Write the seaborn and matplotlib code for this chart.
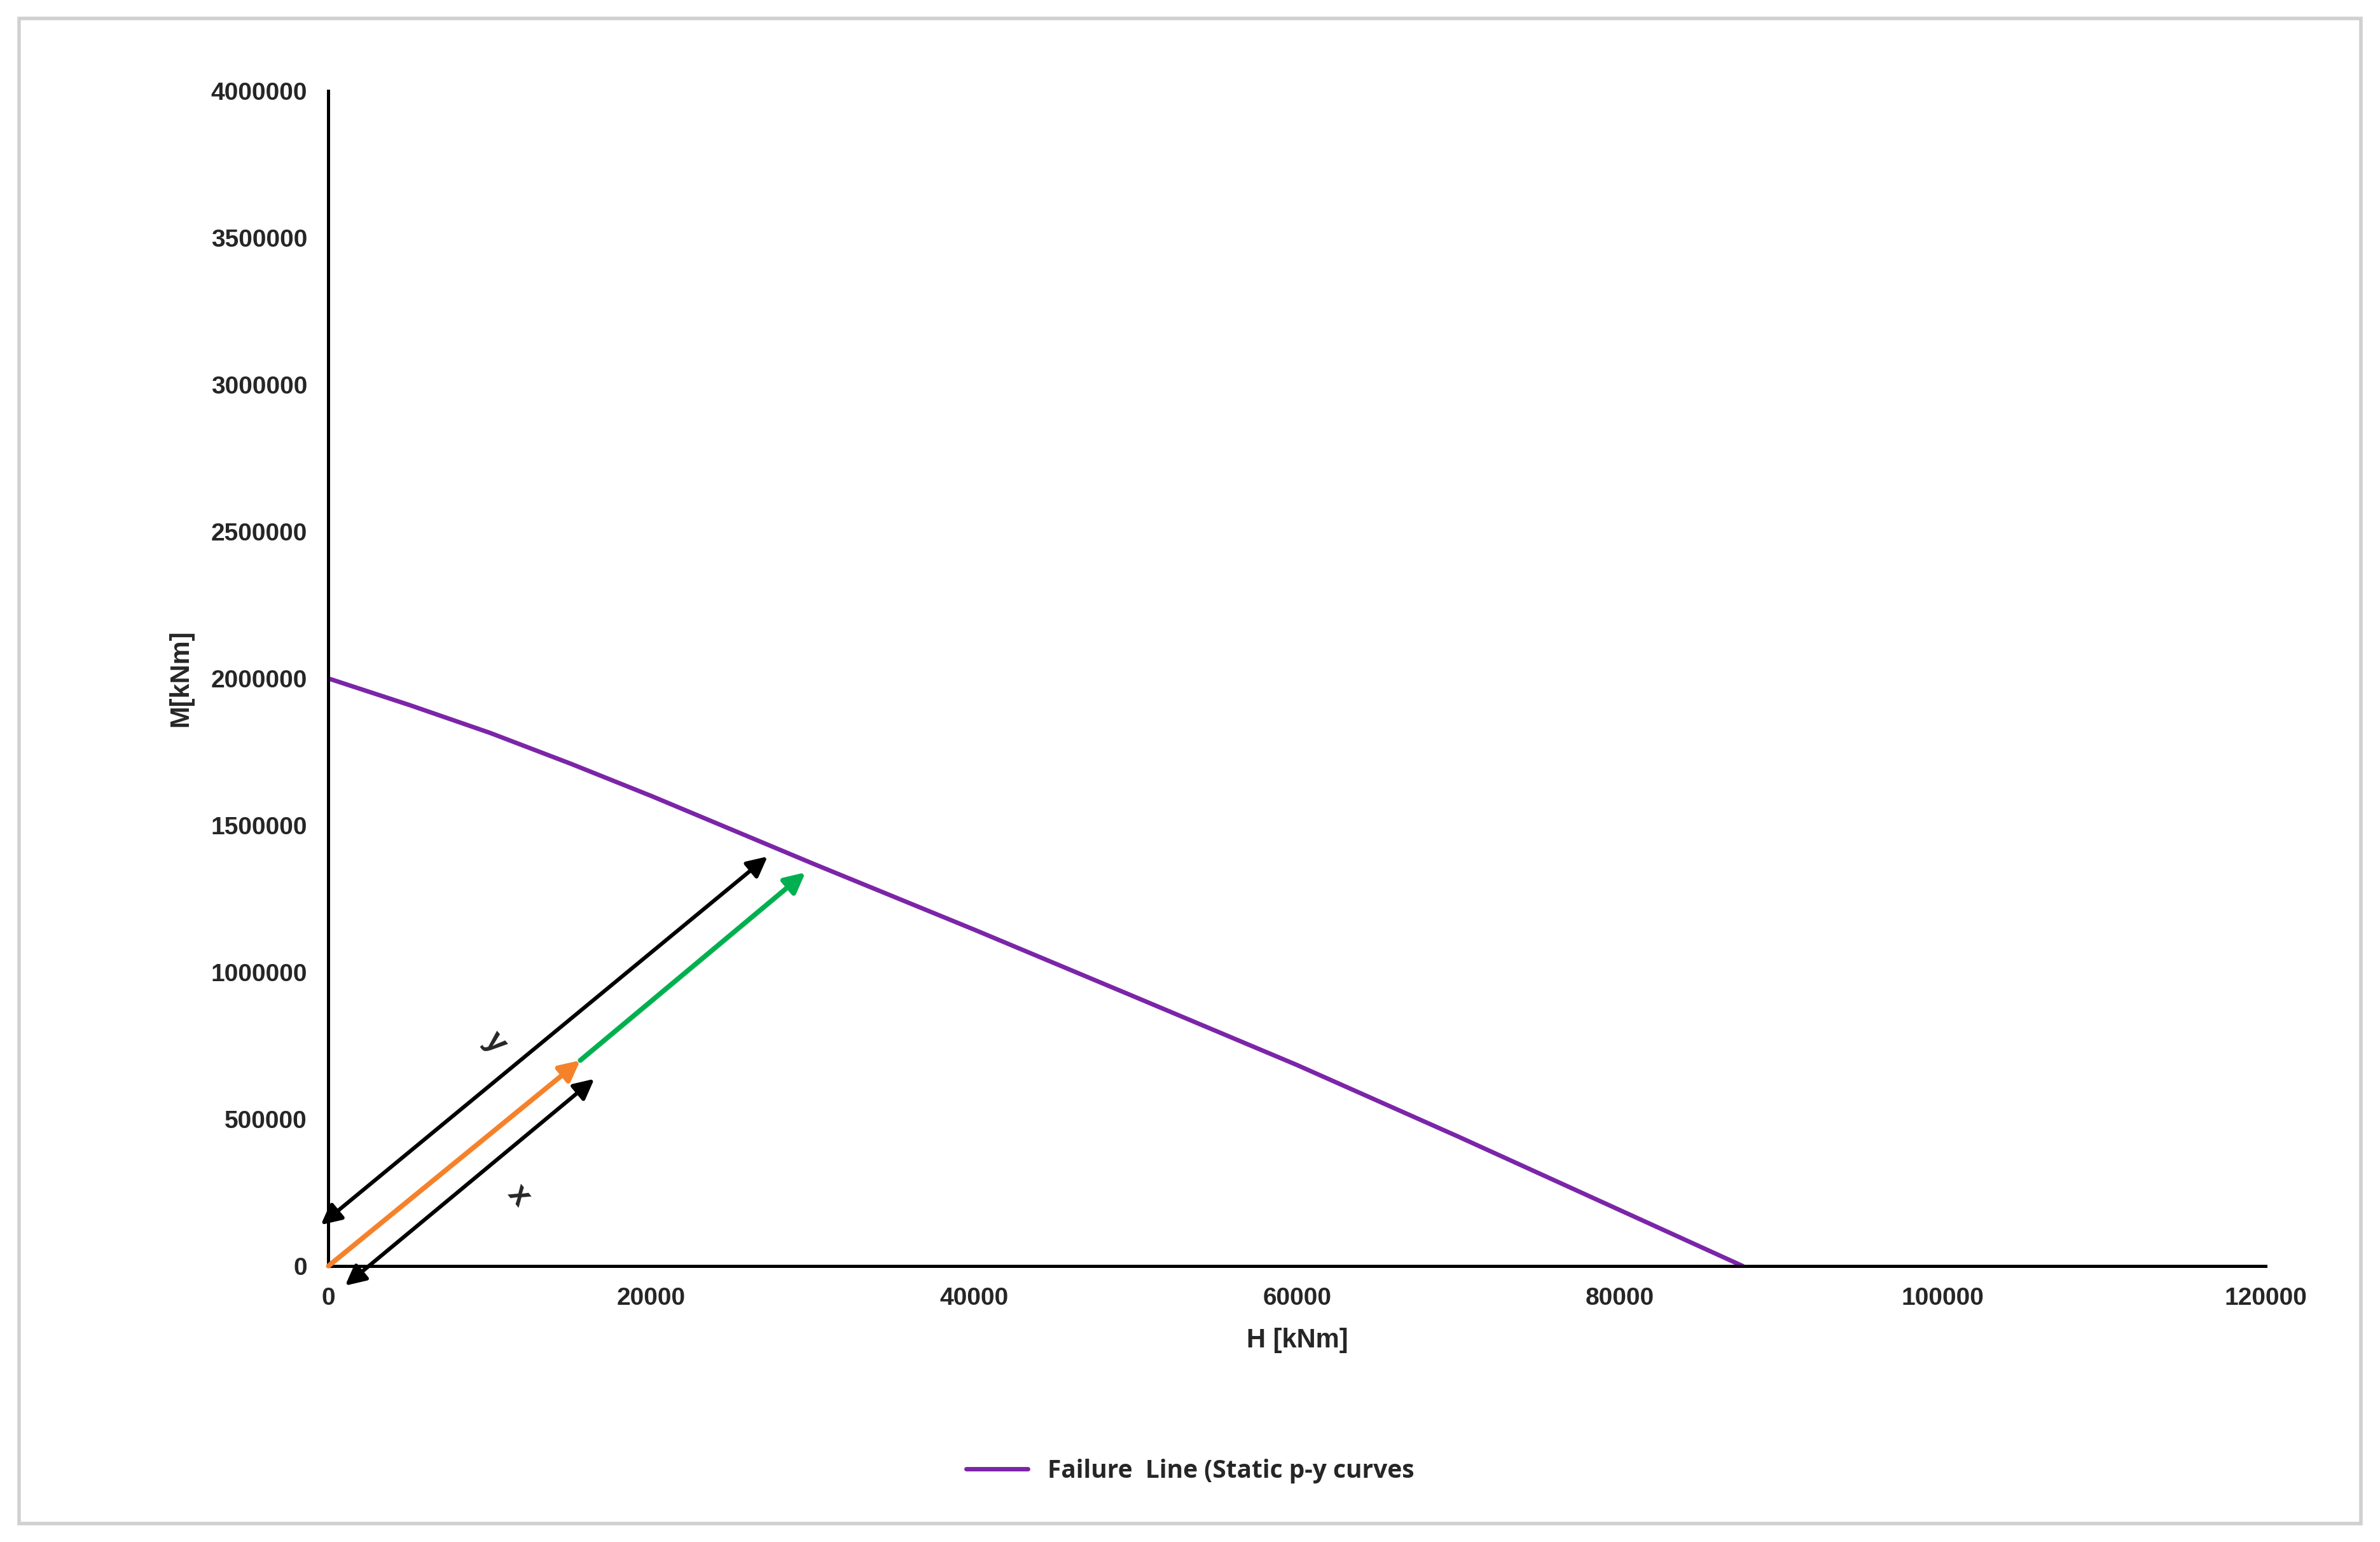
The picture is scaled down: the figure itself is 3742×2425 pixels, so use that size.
import matplotlib
matplotlib.use("Agg")
import matplotlib.pyplot as plt
import seaborn as sns
import pandas as pd
from matplotlib.patches import Rectangle
from matplotlib.ticker import FuncFormatter

# Failure line
h_vals = [0, 5000, 10000, 15000, 20000, 25000, 30000, 40000, 50000, 60000, 70000, 80000, 87600]
m_vals = [2000000, 1910000, 1815000, 1710000, 1600000, 1485000, 1370000, 1145000, 915000, 684000, 440000, 190000, 0]

# arrows: (start H, start M, end H, end M)
orange_arrow = (0, 0, 15600, 700000)
green_arrow = (15600, 700000, 29550, 1340000)
y_arrow = (-470, 140000, 27200, 1394000)
x_arrow = (1035, -67000, 16470, 637000)

sns.set_theme(style="white")
plt.rcParams['font.family'] = ['Liberation Sans', 'DejaVu Sans']

fig = plt.figure(figsize=(18.71, 12.125), dpi=200)
ax = fig.add_axes([0.138, 0.179, 0.814, 0.762])

df = pd.DataFrame({"H": h_vals, "M": m_vals})
sns.lineplot(data=df, x="H", y="M", ax=ax, color="#7B25A8", linewidth=2.5,
             label="Failure  Line (Static p-y curves")

ax.set_xlim(0, 120000)
ax.set_ylim(0, 4000000)
ax.set_xticks(range(0, 120001, 20000))
ax.set_yticks(range(0, 4000001, 500000))
ax.yaxis.set_major_formatter(FuncFormatter(lambda v, p: f"{int(v)}"))
ax.tick_params(labelsize=14, length=0, pad=12)
for lab in ax.get_xticklabels() + ax.get_yticklabels():
    lab.set_fontweight("bold")
for s in ["top", "right"]:
    ax.spines[s].set_visible(False)
for s in ["left", "bottom"]:
    ax.spines[s].set_color("black")
    ax.spines[s].set_linewidth(1.8)

ax.set_xlabel("H [kNm]", fontsize=15, fontweight="bold", labelpad=10)
ax.set_ylabel("M[kNm]", fontsize=15, fontweight="bold", labelpad=10)


def arrow(a, color, both=False, lw=2.2):
    ax.annotate("", xy=(a[2], a[3]), xytext=(a[0], a[1]), annotation_clip=False,
                arrowprops=dict(arrowstyle="<|-|>" if both else "-|>", color=color,
                                lw=lw, mutation_scale=24, shrinkA=0, shrinkB=0))


arrow(orange_arrow, "#F5822A", lw=2.8)
arrow(green_arrow, "#00B050", lw=2.8)
arrow(y_arrow, "black", both=True)
arrow(x_arrow, "black", both=True)
ax.text(10300, 760000, "y", fontsize=18, fontweight="bold", rotation=-50,
        ha="center", va="center")
ax.text(11800, 240000, "x", fontsize=18, fontweight="bold", rotation=-50,
        ha="center", va="center")

leg = ax.legend(loc="center", bbox_to_anchor=(0.5, 0.046), bbox_transform=fig.transFigure,
                frameon=False, handlelength=2.5,
                prop={"family": "Open Sans", "weight": "bold", "size": 14})

fig.patches.append(Rectangle((0.008, 0.012), 0.984, 0.976, transform=fig.transFigure,
                             fill=False, edgecolor="#D0D0D0", linewidth=2))

fig.savefig("out.png", dpi=200, facecolor="white")
